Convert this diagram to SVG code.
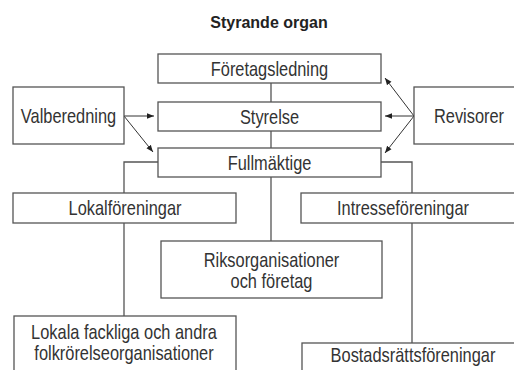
<svg xmlns="http://www.w3.org/2000/svg" width="514" height="370" viewBox="0 0 514 370">
<style>
.box{fill:#fff;stroke:#555;stroke-width:1.3}
.t{font-family:"Liberation Sans",Arial,sans-serif;font-size:20px;fill:#333;text-anchor:middle}
.title{font-family:"Liberation Sans",Arial,sans-serif;font-size:16px;font-weight:bold;fill:#222;text-anchor:middle}
.c{fill:none;stroke:#555;stroke-width:1.3}
.a{fill:none;stroke:#333;stroke-width:1}
</style>
<defs>
<marker id="ah" viewBox="0 0 10 10" refX="10" refY="5" markerWidth="7" markerHeight="7" markerUnits="userSpaceOnUse" orient="auto">
<path d="M0,1 L10,5 L0,9 z" fill="#222"/>
</marker>
</defs>
<rect width="514" height="370" fill="#fff"/>
<text class="title" x="269" y="28">Styrande organ</text>
<g id="connectors">
<path class="c" d="M271,83 V102 M271,131 V148 M271,177 V241"/>
<path class="c" d="M158,162 H124 V193 M124,223 V316"/>
<path class="c" d="M381,162 H412 V193 M412,223 V343"/>
<path class="a" d="M124,116 L154,116" marker-end="url(#ah)"/>
<path class="a" d="M124,116 L153,152" marker-end="url(#ah)"/>
<path class="a" d="M414,116 L385,78" marker-end="url(#ah)"/>
<path class="a" d="M414,116 L385,116" marker-end="url(#ah)"/>
<path class="a" d="M414,116 L385,153" marker-end="url(#ah)"/>
</g>
<g id="foretagsledning"><rect class="box" x="158" y="54" width="223" height="29"/><text class="t" transform="translate(269.5,76) scale(0.82,1)">Företagsledning</text></g>
<g id="styrelse"><rect class="box" x="158" y="102" width="223" height="29"/><text class="t" transform="translate(269.5,124) scale(0.82,1)">Styrelse</text></g>
<g id="fullmaktige"><rect class="box" x="158" y="148" width="223" height="29"/><text class="t" transform="translate(269.5,170) scale(0.82,1)">Fullmäktige</text></g>
<g id="valberedning"><rect class="box" x="13" y="87" width="111" height="57"/><text class="t" transform="translate(68.5,123) scale(0.82,1)">Valberedning</text></g>
<g id="revisorer"><rect class="box" x="414" y="87" width="110" height="57"/><text class="t" transform="translate(469,123) scale(0.82,1)">Revisorer</text></g>
<g id="lokalforeningar"><rect class="box" x="13" y="193" width="223" height="30"/><text class="t" transform="translate(125,215) scale(0.82,1)">Lokalföreningar</text></g>
<g id="intresseforeningar"><rect class="box" x="301" y="193" width="223" height="30"/><text class="t" transform="translate(403,215) scale(0.82,1)">Intresseföreningar</text></g>
<g id="riksorganisationer"><rect class="box" x="161" y="241" width="221" height="57"/><text class="t" transform="translate(271.5,267) scale(0.82,1)">Riksorganisationer</text><text class="t" transform="translate(271.5,288) scale(0.82,1)">och företag</text></g>
<g id="lokala"><rect class="box" x="14" y="316" width="222" height="70"/><text class="t" transform="translate(124,339) scale(0.82,1)">Lokala fackliga och andra</text><text class="t" transform="translate(124,360) scale(0.82,1)">folkrörelseorganisationer</text></g>
<g id="bostadsratt"><rect class="box" x="302" y="343" width="222" height="50"/><text class="t" transform="translate(413,362) scale(0.82,1)">Bostadsrättsföreningar</text></g>
</svg>
